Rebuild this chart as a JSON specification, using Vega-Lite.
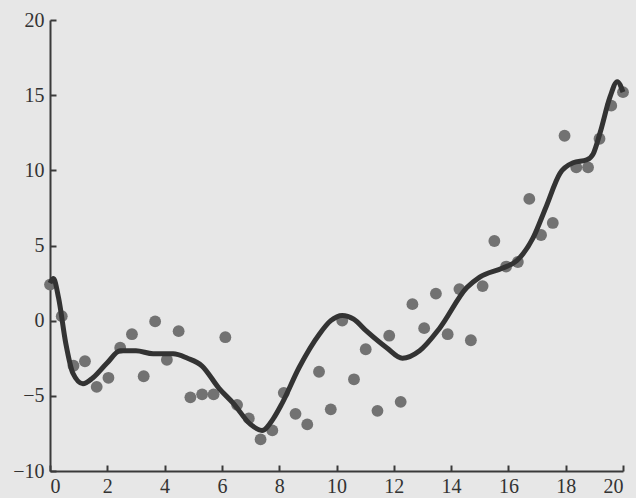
{
  "$schema": "https://vega.github.io/schema/vega-lite/v6.json",
  "width": 573,
  "height": 451,
  "autosize": {"type": "none"},
  "padding": {"left": 50, "top": 20, "right": 13, "bottom": 27},
  "background": "#e7e7e7",
  "config": {
    "view": {"stroke": null},
    "axis": {
      "grid": false,
      "domainColor": "#3a3a3a",
      "domainWidth": 2,
      "tickColor": "#3a3a3a",
      "tickWidth": 2,
      "tickSize": -6,
      "labelFont": "Liberation Serif",
      "labelFontSize": 20,
      "labelColor": "#333333",
      "titleFontSize": 0
    }
  },
  "datasets": {
    "pts": [
      {"x": 0.0, "y": 2.4}, {"x": 0.41, "y": 0.3}, {"x": 0.82, "y": -3.0}, {"x": 1.22, "y": -2.7},
      {"x": 1.63, "y": -4.4}, {"x": 2.04, "y": -3.8}, {"x": 2.45, "y": -1.8}, {"x": 2.86, "y": -0.9},
      {"x": 3.27, "y": -3.7}, {"x": 3.67, "y": -0.05}, {"x": 4.08, "y": -2.6}, {"x": 4.49, "y": -0.7},
      {"x": 4.9, "y": -5.1}, {"x": 5.31, "y": -4.9}, {"x": 5.71, "y": -4.9}, {"x": 6.12, "y": -1.1},
      {"x": 6.53, "y": -5.6}, {"x": 6.94, "y": -6.5}, {"x": 7.35, "y": -7.9}, {"x": 7.76, "y": -7.3},
      {"x": 8.16, "y": -4.8}, {"x": 8.57, "y": -6.2}, {"x": 8.98, "y": -6.9}, {"x": 9.39, "y": -3.4},
      {"x": 9.8, "y": -5.9}, {"x": 10.2, "y": 0.0}, {"x": 10.61, "y": -3.9}, {"x": 11.02, "y": -1.9},
      {"x": 11.43, "y": -6.0}, {"x": 11.84, "y": -1.0}, {"x": 12.24, "y": -5.4}, {"x": 12.65, "y": 1.1},
      {"x": 13.06, "y": -0.5}, {"x": 13.47, "y": 1.8}, {"x": 13.88, "y": -0.9}, {"x": 14.29, "y": 2.1},
      {"x": 14.69, "y": -1.3}, {"x": 15.1, "y": 2.3}, {"x": 15.51, "y": 5.3}, {"x": 15.92, "y": 3.6},
      {"x": 16.33, "y": 3.9}, {"x": 16.73, "y": 8.1}, {"x": 17.14, "y": 5.7}, {"x": 17.55, "y": 6.5},
      {"x": 17.96, "y": 12.3}, {"x": 18.37, "y": 10.2}, {"x": 18.78, "y": 10.2}, {"x": 19.18, "y": 12.1},
      {"x": 19.59, "y": 14.3}, {"x": 20.0, "y": 15.2}
    ],
    "curve": [
      {"x": 0.0, "y": 2.5}, {"x": 0.12, "y": 2.8}, {"x": 0.3, "y": 1.5}, {"x": 0.55, "y": -1.5},
      {"x": 0.8, "y": -3.5}, {"x": 1.15, "y": -4.2}, {"x": 1.5, "y": -3.8}, {"x": 2.0, "y": -2.8},
      {"x": 2.45, "y": -2.0}, {"x": 3.0, "y": -2.0}, {"x": 3.6, "y": -2.2}, {"x": 4.3, "y": -2.2},
      {"x": 4.8, "y": -2.5}, {"x": 5.3, "y": -3.0}, {"x": 5.9, "y": -4.5}, {"x": 6.4, "y": -5.5},
      {"x": 7.0, "y": -6.9}, {"x": 7.4, "y": -7.3}, {"x": 7.8, "y": -6.5}, {"x": 8.1, "y": -5.5},
      {"x": 8.7, "y": -3.1}, {"x": 9.4, "y": -0.9}, {"x": 9.8, "y": 0.0}, {"x": 10.2, "y": 0.35},
      {"x": 10.6, "y": 0.1}, {"x": 11.05, "y": -0.7}, {"x": 11.75, "y": -1.8}, {"x": 12.3, "y": -2.5},
      {"x": 12.9, "y": -2.0}, {"x": 13.6, "y": -0.5}, {"x": 14.55, "y": 2.2}, {"x": 15.0, "y": 2.9},
      {"x": 15.8, "y": 3.5}, {"x": 16.3, "y": 4.0}, {"x": 16.86, "y": 5.5}, {"x": 17.3, "y": 7.5},
      {"x": 17.8, "y": 9.8}, {"x": 18.26, "y": 10.5}, {"x": 18.74, "y": 10.7}, {"x": 18.96, "y": 11.1},
      {"x": 19.2, "y": 12.5}, {"x": 19.55, "y": 14.9}, {"x": 19.8, "y": 15.9}, {"x": 20.0, "y": 15.2}
    ]
  },
  "layer": [
    {
      "data": {"name": "pts"},
      "mark": {"type": "circle", "size": 140, "color": "#727272", "opacity": 1},
      "encoding": {
        "x": {"field": "x", "type": "quantitative", "scale": {"domain": [0, 20], "nice": false, "zero": false},
              "axis": {"values": [0, 2, 4, 6, 8, 10, 12, 14, 16, 18, 20], "title": null, "labelPadding": 11}},
        "y": {"field": "y", "type": "quantitative", "scale": {"domain": [-10, 20], "nice": false, "zero": false},
              "axis": {"values": [-10, -5, 0, 5, 10, 15, 20], "title": null, "labelPadding": 12}}
      }
    },
    {
      "data": {"name": "curve"},
      "mark": {"type": "line", "interpolate": "monotone", "color": "#333333", "strokeWidth": 5},
      "encoding": {
        "x": {"field": "x", "type": "quantitative"},
        "y": {"field": "y", "type": "quantitative"}
      }
    }
  ]
}
